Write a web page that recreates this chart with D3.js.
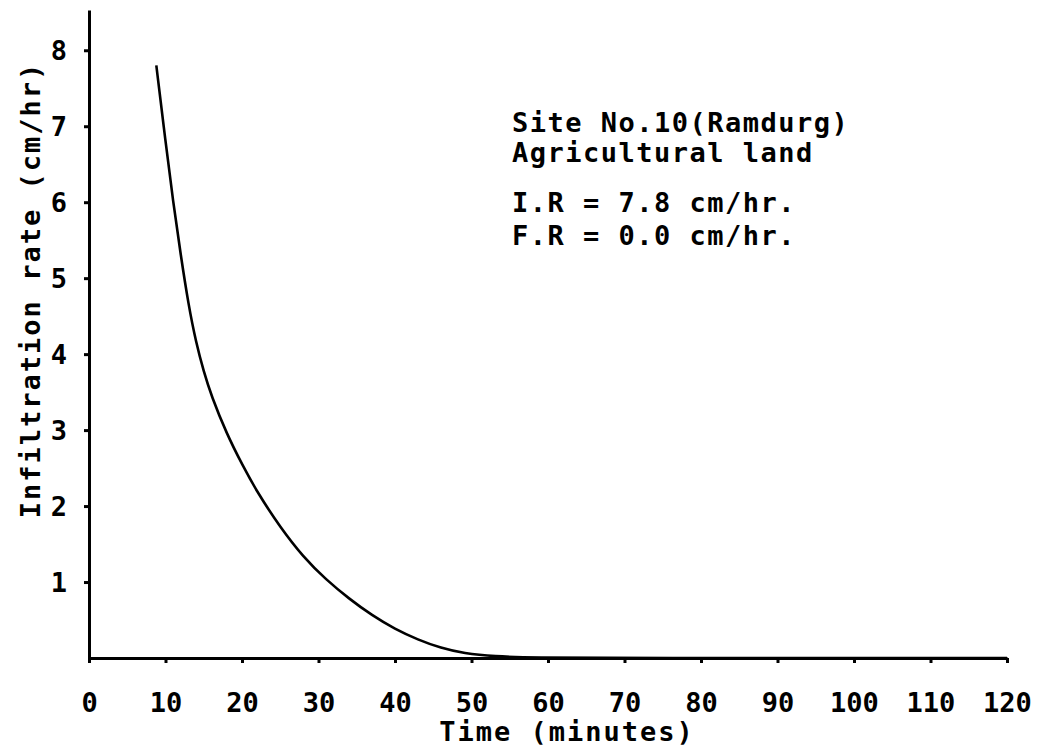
<!DOCTYPE html>
<html>
<head>
<meta charset="utf-8">
<script src="https://cdn.jsdelivr.net/npm/d3@7"></script>
<style>
  html, body { margin: 0; padding: 0; background: #fff; }
  svg { display: block; }
  text { font-family: "DejaVu Sans Mono", monospace; font-weight: bold; fill: #000; }
</style>
</head>
<body>
<svg id="chart" width="1038" height="752"></svg>
<script>
// ---- data ----
const timeMinutes = [8.8, 10, 11, 12, 13, 14, 15, 16, 18, 20, 22, 25, 28, 31, 34, 37, 40, 43, 46, 49, 53, 58, 70, 120];
const infiltrationRate = [7.8, 6.8, 6.0, 5.3, 4.65, 4.15, 3.77, 3.45, 2.95, 2.55, 2.18, 1.72, 1.33, 1.03, 0.78, 0.56, 0.38, 0.24, 0.13, 0.06, 0.02, 0.005, 0, 0];
const xTickValues = [0, 10, 20, 30, 40, 50, 60, 70, 80, 90, 100, 110, 120];
const yTickValues = [1, 2, 3, 4, 5, 6, 7, 8];
const annotationLines = ["Site No.10(Ramdurg)", "Agricultural land", "I.R = 7.8 cm/hr.", "F.R = 0.0 cm/hr."];
const xTitle = "Time (minutes)";
const yTitle = "Infiltration rate (cm/hr)";

const svg = d3.select("#chart");

const x = d3.scaleLinear().domain([0, 120]).range([89, 1007]);
const y = d3.scaleLinear().domain([0, 8.53]).range([658, 10]);

// x axis
const gx = svg.append("g")
  .attr("transform", `translate(0,${y(0)})`)
  .call(d3.axisBottom(x).tickValues(xTickValues).tickSize(5).tickSizeOuter(0).tickFormat(d3.format("d")));
gx.select(".domain").attr("stroke", "#000").attr("stroke-width", 3);
gx.selectAll(".tick line").attr("stroke", "#000").attr("stroke-width", 3);
gx.selectAll(".tick text")
  .attr("y", 54).attr("dy", 0)
  .style("font-size", "27px")
  .style("font-family", "DejaVu Sans Mono, monospace")
  .style("font-weight", "bold");

// y axis
const gy = svg.append("g")
  .attr("transform", `translate(${x(0)},0)`)
  .call(d3.axisLeft(y).tickValues(yTickValues).tickSize(5).tickSizeOuter(0).tickFormat(d3.format("d")));
gy.select(".domain").attr("stroke", "#000").attr("stroke-width", 3);
gy.selectAll(".tick line").attr("stroke", "#000").attr("stroke-width", 3);
gy.selectAll(".tick text")
  .attr("x", -22).attr("dy", "0.36em")
  .style("font-size", "27px")
  .style("font-family", "DejaVu Sans Mono, monospace")
  .style("font-weight", "bold");

// curve
const pts = timeMinutes.map((t, i) => [t, infiltrationRate[i]]);
const line = d3.line().x(d => x(d[0])).y(d => y(d[1])).curve(d3.curveBasis);
svg.append("path")
  .datum(pts)
  .attr("d", line)
  .attr("fill", "none")
  .attr("stroke", "#000")
  .attr("stroke-width", 2.6);

// axis titles
svg.append("text")
  .attr("x", 567).attr("y", 741)
  .attr("text-anchor", "middle")
  .style("font-size", "27px")
  .style("letter-spacing", "2px")
  .text(xTitle);

svg.append("text")
  .attr("transform", "translate(40,290) rotate(-90)")
  .attr("text-anchor", "middle")
  .style("font-size", "27px")
  .style("letter-spacing", "2px")
  .text(yTitle);

// annotation
const annY = [132, 162, 212, 245];
svg.append("g").selectAll("text")
  .data(annotationLines)
  .join("text")
  .attr("x", 512)
  .attr("y", (d, i) => annY[i])
  .style("font-size", "27px")
  .style("letter-spacing", "1.5px")
  .text(d => d);
</script>
</body>
</html>
